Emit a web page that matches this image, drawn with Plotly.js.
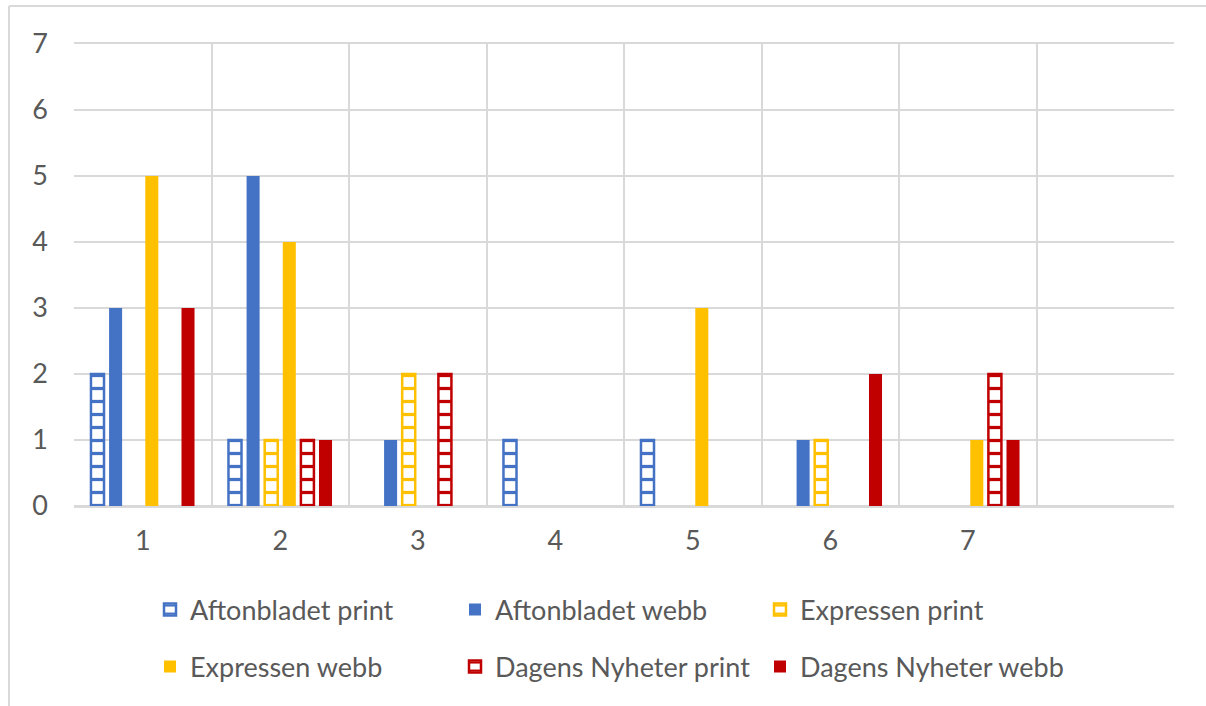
<!DOCTYPE html>
<html>
<head>
<meta charset="utf-8">
<script src="https://cdn.plot.ly/plotly-3.0.1.min.js"></script>
<style>html,body{margin:0;padding:0;background:#fff;}#chart{width:1206px;height:706px;}</style>
</head>
<body>
<div id="chart"></div>
<script>
const categories = ['1','2','3','4','5','6','7','8'];
const tickLabels = ['1','2','3','4','5','6','7',''];
const seriesNames = ['Aftonbladet print','Aftonbladet webb','Expressen print','Expressen webb','Dagens Nyheter print','Dagens Nyheter webb'];
const aftonbladetPrint = [2,1,0,1,1,0,0,0];
const aftonbladetWebb  = [3,5,1,0,0,1,0,0];
const expressenPrint   = [0,1,2,0,0,1,0,0];
const expressenWebb    = [5,4,0,0,3,0,1,0];
const dnPrint          = [0,1,2,0,0,0,2,0];
const dnWebb           = [3,1,0,0,0,2,1,0];
const seriesValues = [aftonbladetPrint, aftonbladetWebb, expressenPrint, expressenWebb, dnPrint, dnWebb];
const colors = ['#4472C4','#4472C4','#FFC000','#FFC000','#C00000','#C00000'];
const patterned = [true,false,true,false,true,false];

const FONT = 'Lato, "Open Sans", sans-serif';
const TXT = '#595959';

const traces = seriesNames.map((name, i) => {
  const t = {
    type: 'bar',
    name: name,
    x: categories,
    y: seriesValues[i].map(v => v === 0 ? null : v),
    legend: i < 3 ? 'legend' : 'legend2',
    hoverinfo: 'x+y+name',
    marker: {}
  };
  if (patterned[i]) {
    t.marker = {
      color: '#ffffff',
      line: {color: colors[i], width: 2.5},
      pattern: {shape: '-', fgcolor: colors[i], bgcolor: '#ffffff', size: 13, solidity: 0.25, fillmode: 'replace'}
    };
  } else {
    t.marker = {color: colors[i], line: {width: 0}};
  }
  return t;
});

const W = 1100, H = 462, L = 74, T = 44;
const px = x => (x - L) / W;
const py = y => (T + H - y) / H;

const legendCommon = {
  orientation: 'h',
  xanchor: 'left',
  yanchor: 'middle',
  font: {family: FONT, size: 27, color: TXT},
  entrywidth: 260,
  entrywidthmode: 'pixels',
  bgcolor: 'rgba(0,0,0,0)',
  borderwidth: 0
};

const layout = {
  width: 1206,
  height: 706,
  margin: {l: L, r: 1206 - L - W, t: T, b: 706 - T - H, pad: 0},
  paper_bgcolor: '#ffffff',
  plot_bgcolor: '#ffffff',
  font: {family: FONT, color: TXT},
  barmode: 'group',
  bargap: 0.21,
  bargroupgap: 0.28,
  showlegend: true,
  xaxis: {
    type: 'category',
    categoryorder: 'array',
    categoryarray: categories,
    tickmode: 'array',
    tickvals: categories,
    ticktext: tickLabels,
    tickson: 'boundaries',
    ticks: '',
    showgrid: true,
    gridcolor: '#D9D9D9',
    gridwidth: 2,
    showline: true,
    linecolor: '#D9D9D9',
    linewidth: 2,
    mirror: true,
    zeroline: false,
    tickfont: {family: FONT, size: 27, color: TXT},
    ticklabelstandoff: 10,
    fixedrange: true
  },
  yaxis: {
    range: [0, 7],
    dtick: 1,
    tick0: 0,
    ticks: '',
    showgrid: true,
    gridcolor: '#D9D9D9',
    gridwidth: 2,
    zeroline: true,
    zerolinecolor: '#D9D9D9',
    zerolinewidth: 2,
    showline: false,
    tickfont: {family: FONT, size: 27, color: TXT},
    ticklabelstandoff: 25,
    fixedrange: true
  },
  legend: Object.assign({}, legendCommon, {x: px(150), y: py(610)}),
  legend2: Object.assign({}, legendCommon, {x: px(150), y: py(667)}),
  shapes: [
    {type: 'line', xref: 'paper', yref: 'paper', x0: px(9), x1: px(1206), y0: py(6), y1: py(6), line: {color: '#D9D9D9', width: 2}},
    {type: 'line', xref: 'paper', yref: 'paper', x0: px(9), x1: px(9), y0: py(6), y1: py(706), line: {color: '#D9D9D9', width: 2}}
  ]
};

Plotly.newPlot('chart', traces, layout, {displayModeBar: false, staticPlot: true});
</script>
</body>
</html>
